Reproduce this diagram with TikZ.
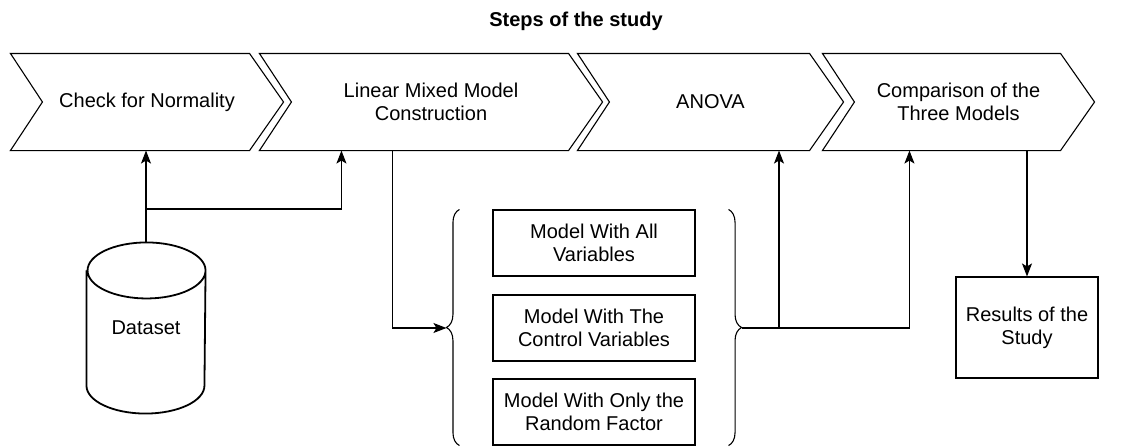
\documentclass[tikz,border=0pt]{standalone}
\usepackage{fontspec}
\setmainfont{Liberation Sans}
\usetikzlibrary{arrows.meta,decorations.pathreplacing}

\begin{document}
\begin{tikzpicture}[>={Stealth[length=13pt,width=10pt,inset=3pt]},x=1pt,y=-1pt,line width=1.1pt,
	txt/.style={font=\fontsize{20}{23}\selectfont,align=center},
	stepnode/.style={txt,minimum height=96pt,inner sep=0pt},
	modelbox/.style={txt,draw,minimum width=202pt,minimum height=66pt,inner sep=0pt}]
	\def\rx{59pt} % ban kinh ellipse cua tru
	\def\ry{28pt}
	\useasboundingbox (0,0) rectangle (1135,447);
	\node[txt,font=\fontsize{20}{23}\selectfont\bfseries] (title) at (576,21) {Steps of the study};
	% cac buoc chinh
	\node[stepnode,minimum width=272pt] (norm) at (147,102) {Check for Normality};
	\node[stepnode,minimum width=342pt] (lmm) at (431,102) {Linear Mixed Model\\Construction};
	\node[stepnode,minimum width=265pt] (anova) at (710.5,102) {ANOVA};
	\node[stepnode,minimum width=271pt] (comp) at (958.5,102) {Comparison of the\\Three Models};
	\foreach \s in {norm,lmm,anova,comp}
		\draw (\s.north west) -- ([xshift=-34pt]\s.north east) -- (\s.east) -- ([xshift=-34pt]\s.south east) -- (\s.south west) -- ([xshift=32pt]\s.west) -- cycle;
	% du lieu
	\node[txt,minimum width=118pt,minimum height=170pt,inner sep=0pt] (data) at (146,328) {Dataset};
	\draw[line width=1.8pt] ([yshift=-\ry]data.north west) -- ([yshift=\ry]data.south west)
		arc[start angle=180,end angle=360,x radius=\rx,y radius=\ry] -- ([yshift=-\ry]data.north east)
		arc[start angle=0,end angle=180,x radius=\rx,y radius=\ry]
		arc[start angle=180,end angle=360,x radius=\rx,y radius=\ry];
	% ba mo hinh
	\node[modelbox] (mall) at (594,243) {Model With All\\Variables};
	\node[modelbox] (mctrl) at (594,328) {Model With The\\Control Variables};
	\node[modelbox] (mrand) at (594,412) {Model With Only the\\Random Factor};
	\draw[decorate,decoration={brace,amplitude=13pt}] ([xshift=-33pt]mrand.south west) -- ([xshift=-33pt]mall.north west);
	\draw[decorate,decoration={brace,amplitude=13pt}] ([xshift=33pt]mall.north east) -- ([xshift=33pt]mrand.south east);
	\coordinate (ltip) at ([xshift=-46pt]mctrl.west);
	\coordinate (rtip) at ([xshift=46pt]mctrl.east);
	\node[txt,draw,minimum width=142pt,minimum height=101pt,inner sep=0pt] (res) at (1027,327.5) {Results of the\\Study};
	% cac mui ten
	\coordinate (split) at (146,209);
	\coordinate (join) at (779,328);
	\draw[->] (data.north) -- (data.north |- norm.south);
	\draw[->] (split) -| ([xshift=82pt]lmm.south west);
	\draw[->] ([xshift=133pt]lmm.south west) |- (ltip);
	\draw[->] (rtip) -| ([xshift=87pt]comp.south west);
	\draw[->] (join) -- (join |- anova.south);
	\draw[->] (res.north |- comp.south) -- (res.north);
\end{tikzpicture}
\end{document}
